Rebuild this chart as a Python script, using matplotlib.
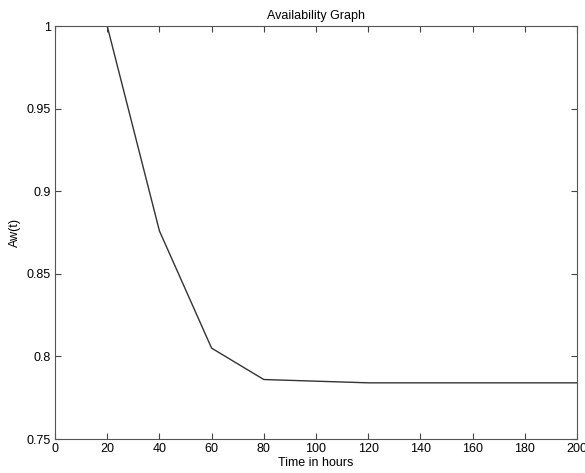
import matplotlib
matplotlib.use("Agg")
import matplotlib.pyplot as plt

time_hours = [20, 40, 60, 80, 100, 120, 140, 160, 180, 200]
availability = [1.0, 0.876, 0.805, 0.786, 0.785, 0.784, 0.784, 0.784, 0.784, 0.784]
x_ticks = [0, 20, 40, 60, 80, 100, 120, 140, 160, 180, 200]
y_ticks = [0.75, 0.8, 0.85, 0.9, 0.95, 1.0]
y_tick_labels = ["0.75", "0.8", "0.85", "0.9", "0.95", "1"]

plt.rcParams['font.family'] = ['Liberation Sans', 'DejaVu Sans']

fig = plt.figure(figsize=(5.85, 4.73), dpi=100)
ax = fig.add_axes([55/585, 1 - 439/473, (577-55)/585, (439-26)/473])
ax.plot(time_hours, availability, color='#333333', linewidth=1.0)
ax.set_xlim(0, 200)
ax.set_ylim(0.75, 1.0)
ax.set_xticks(x_ticks)
ax.set_yticks(y_ticks)
ax.set_yticklabels(y_tick_labels)
ax.tick_params(direction='in', length=4, width=0.8, colors='#444444',
               labelcolor='black', labelsize=9, top=True, right=True, pad=3)
for s in ax.spines.values():
    s.set_color('#555555')
    s.set_linewidth(0.8)
ax.set_title("Availability Graph", fontsize=9, pad=5)
ax.set_xlabel("Time in hours", fontsize=9, labelpad=1)
ax.set_ylabel("Aw(t)", fontsize=9, labelpad=4)
fig.savefig("out.png", dpi=100, facecolor='white')
